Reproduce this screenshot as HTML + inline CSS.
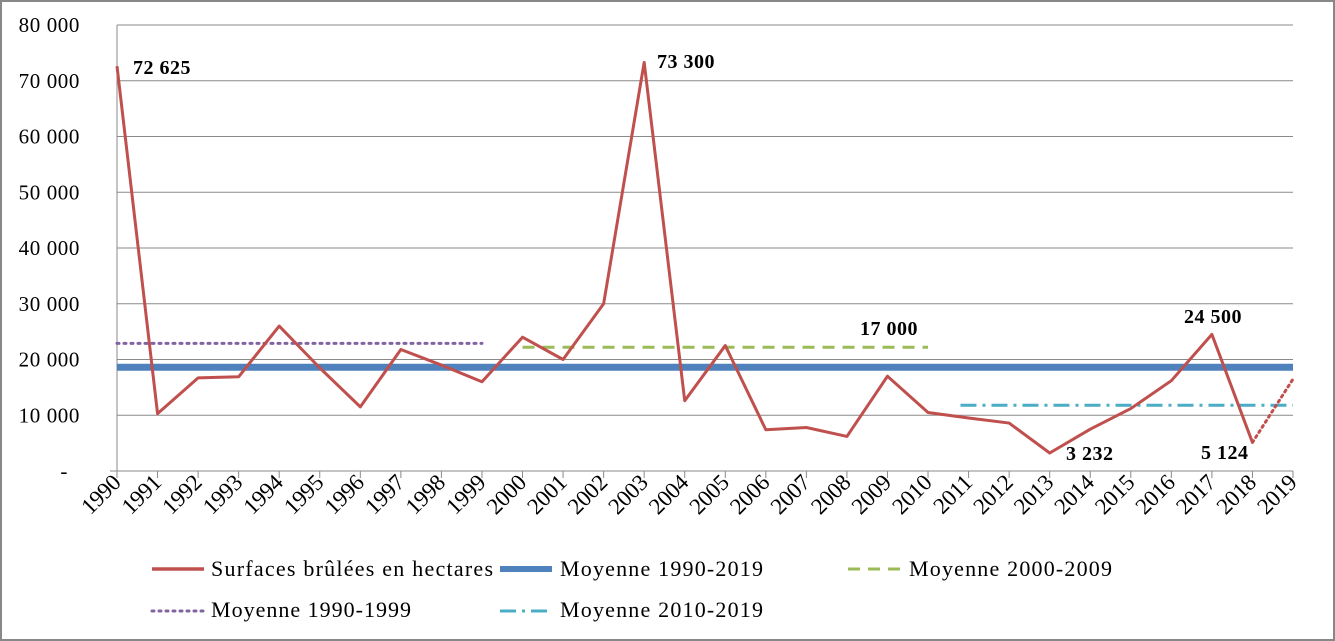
<!DOCTYPE html>
<html><head><meta charset="utf-8"><style>
body{margin:0;background:#fff}
svg{display:block;font-family:"Liberation Serif",serif}
</style></head><body>
<svg id="c" width="1335" height="641">
<rect x="1" y="1" width="1333" height="639" fill="#fff" stroke="#888" stroke-width="2"/>
<g id="grid"></g><g id="marks"></g><g id="labels"></g>
<g id="legend" font-size="22" fill="#000">
 <line x1="152" y1="569" x2="204" y2="569" stroke="#C0504D" stroke-width="3.5"/>
 <text x="211" y="576" textLength="282" lengthAdjust="spacing">Surfaces brûlées en hectares</text>
 <line x1="500" y1="569" x2="552" y2="569" stroke="#4F81BD" stroke-width="6"/>
 <text x="560" y="576" textLength="203" lengthAdjust="spacing">Moyenne 1990-2019</text>
 <line x1="848" y1="569" x2="900" y2="569" stroke="#9BBB59" stroke-width="3" stroke-dasharray="12,8"/>
 <text x="909" y="576" textLength="203" lengthAdjust="spacing">Moyenne 2000-2009</text>
 <line x1="152" y1="611" x2="204" y2="611" stroke="#8064A2" stroke-width="3" stroke-dasharray="2,5" stroke-linecap="round"/>
 <text x="211" y="617" textLength="200" lengthAdjust="spacing">Moyenne 1990-1999</text>
 <line x1="500" y1="611" x2="552" y2="611" stroke="#4BACC6" stroke-width="3" stroke-dasharray="16,6,3,6"/>
 <text x="560" y="617" textLength="203" lengthAdjust="spacing">Moyenne 2010-2019</text>
</g>
</svg>
<script>
const years=[1990,1991,1992,1993,1994,1995,1996,1997,1998,1999,2000,2001,2002,2003,2004,2005,2006,2007,2008,2009,2010,2011,2012,2013,2014,2015,2016,2017,2018,2019];
const surfaces=[72625,10300,16700,16900,26000,18500,11500,21800,19000,16000,24000,20000,30000,73300,12600,22500,7400,7800,6200,17000,10500,9500,8600,3232,7500,11200,16200,24500,5124,16500];
const yTicks=[0,10000,20000,30000,40000,50000,60000,70000,80000];
const yTickLabels=["-","10 000","20 000","30 000","40 000","50 000","60 000","70 000","80 000"];
const mean9019=18600, mean9099=22900, mean0009=22200, mean1019=11800;
const annotations=[[0,"72 625",133,74],[13,"73 300",657,68],[19,"17 000",860,335],[23,"3 232",1066,460],[27,"24 500",1184,323],[28,"5 124",1201,459]];
const NS="http://www.w3.org/2000/svg";
const X=i=>117+i*(1293-117)/29;
const Y=v=>471-v*(471-25)/80000;
function mk(p,t,a){const e=document.createElementNS(NS,t);for(const k in a)e.setAttribute(k,a[k]);document.getElementById(p).appendChild(e);return e;}
yTicks.forEach((v,i)=>{
 if(v>0){const g=mk('grid','line',{x1:117,x2:1293,y1:Y(v),y2:Y(v),stroke:'#8a8a8a','stroke-width':1});
 
 }
 const t=mk('labels','text',{x:i==0?68:80,y:Y(v)+7,'text-anchor':'end','font-size':21,'letter-spacing':'0.6'});
 t.textContent=yTickLabels[i];
 
 
});
const ax=mk('grid','path',{d:`M117,25V471M110,471H1293`,stroke:'#8a8a8a',fill:'none'});


years.forEach((y,i)=>{
 const tk=mk('grid','line',{x1:X(i),x2:X(i),y1:471,y2:478,stroke:'#8a8a8a'});
 
 
 const t=mk('labels','text',{x:0,y:0,'text-anchor':'end','font-size':23,'letter-spacing':'-0.3',transform:`translate(${X(i)+5},${484}) rotate(-45)`});
 t.textContent=y;
 
 
});
function hline(v,i0,i1,style,name){const l=mk('marks','line',Object.assign({x1:X(i0),x2:X(i1),y1:Y(v),y2:Y(v),fill:'none'},style));
 
 }
hline(mean9099,0,9,{stroke:'#8064A2','stroke-width':3,'stroke-dasharray':'2,5','stroke-linecap':'round'},'mean-1990-1999-line');
hline(mean0009,10,20,{stroke:'#9BBB59','stroke-width':3,'stroke-dasharray':'12,8'},'mean-2000-2009-line');
hline(mean1019,20.8,29,{stroke:'#4BACC6','stroke-width':3,'stroke-dasharray':'16,6,3,6'},'mean-2010-2019-line');
hline(mean9019,0,29,{stroke:'#4F81BD','stroke-width':7},'mean-1990-2019-line');
const pts=surfaces.slice(0,29).map((v,i)=>X(i)+','+Y(v)).join(' ');
const pl=mk('marks','polyline',{points:pts,fill:'none',stroke:'#C0504D','stroke-width':3,'stroke-linejoin':'round'});


const dl=mk('marks','line',{x1:X(28),y1:Y(surfaces[28]),x2:X(29),y2:Y(surfaces[29]),stroke:'#C0504D','stroke-width':3,'stroke-dasharray':'2,4','stroke-linecap':'round'});


annotations.forEach(a=>{const t=mk('labels','text',{x:a[2],y:a[3],'font-size':20,'font-weight':'bold','letter-spacing':'0.5'});
 t.textContent=a[1];
 
 });
</script>
</body></html>
